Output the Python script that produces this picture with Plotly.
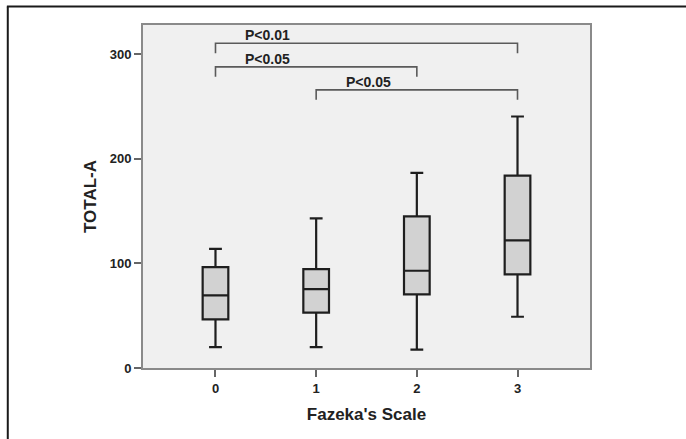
import plotly.graph_objects as go

# ---- data ----
categories = [0, 1, 2, 3]
tick_labels = ["0", "1", "2", "3"]
lower_whisker = [20, 20, 17.5, 49]
q1_values = [46.5, 53, 70.5, 89.5]
medians = [69.5, 75.5, 93, 122]
q3_values = [96.5, 94.5, 145, 184]
upper_whisker = [114, 143, 186.5, 240.5]

bracket_left = [0, 0, 1]
bracket_right = [3, 2, 3]
bracket_top = [310.5, 288, 266]
bracket_drop = [9.5, 9.5, 9.5]
bracket_labels = ["P<0.01", "P<0.05", "P<0.05"]

FONT = "Liberation Sans"

fig = go.Figure()

fig.add_trace(go.Box(
    x=categories,
    q1=q1_values,
    median=medians,
    q3=q3_values,
    lowerfence=lower_whisker,
    upperfence=upper_whisker,
    width=0.255,
    whiskerwidth=0.5,
    fillcolor="#d2d2d2",
    line=dict(color="#1e1e1e", width=2.2),
    boxpoints=False,
    hoverinfo="skip",
    showlegend=False,
))

for x0, x1, yt, d, lab in zip(bracket_left, bracket_right, bracket_top, bracket_drop, bracket_labels):
    fig.add_trace(go.Scatter(
        x=[x0, x0, x1, x1],
        y=[yt - d, yt, yt, yt - d],
        mode="lines",
        line=dict(color="#5a5a5a", width=1.6),
        hoverinfo="skip",
        showlegend=False,
    ))
    fig.add_annotation(
        x=x0 + 0.52, y=yt + 7.5, xref="x", yref="y",
        text=lab, showarrow=False, yanchor="middle", xanchor="center",
        font=dict(family=FONT, size=14, color="#222222", weight="bold"),
    )

# outer frame (left and top edges)
fig.add_shape(type="line", xref="paper", yref="paper",
              x0=-0.3025, x1=-0.3025, y0=1.054, y1=-0.3,
              line=dict(color="#1a1a1a", width=2))
fig.add_shape(type="line", xref="paper", yref="paper",
              x0=-0.3045, x1=1.3, y0=1.054, y1=1.054,
              line=dict(color="#1a1a1a", width=2))

fig.update_layout(
    width=686, height=439,
    margin=dict(l=143, r=96, t=25, b=71, autoexpand=False),
    paper_bgcolor="white",
    plot_bgcolor="#f0f0f0",
    font=dict(family=FONT, color="#222222", weight="bold"),
    showlegend=False,
    xaxis=dict(
        range=[-0.72, 3.72],
        tickmode="array", tickvals=categories, ticktext=tick_labels,
        showgrid=False, zeroline=False,
        showline=True, mirror=True, linecolor="#8a8a8a", linewidth=2,
        ticks="outside", ticklen=7, tickcolor="#666666", tickwidth=1.5,
        tickfont=dict(family=FONT, size=13, color="#222222", weight="bold"),
        title=dict(text="Fazeka's Scale", standoff=14,
                   font=dict(family=FONT, size=17, color="#222222", weight="bold")),
    ),
    yaxis=dict(
        range=[0, 328],
        tickmode="array", tickvals=[0, 100, 200, 300],
        showgrid=False, zeroline=False,
        showline=True, mirror=True, linecolor="#8a8a8a", linewidth=2,
        ticks="outside", ticklen=7, tickcolor="#666666", tickwidth=1.5,
        tickfont=dict(family=FONT, size=13, color="#222222", weight="bold"),
        title=dict(text="TOTAL-A", standoff=9,
                   font=dict(family=FONT, size=17, color="#222222", weight="bold")),
    ),
)

fig.write_html("out.html", config={"displayModeBar": False},
               post_script="document.body.style.margin='0';")
